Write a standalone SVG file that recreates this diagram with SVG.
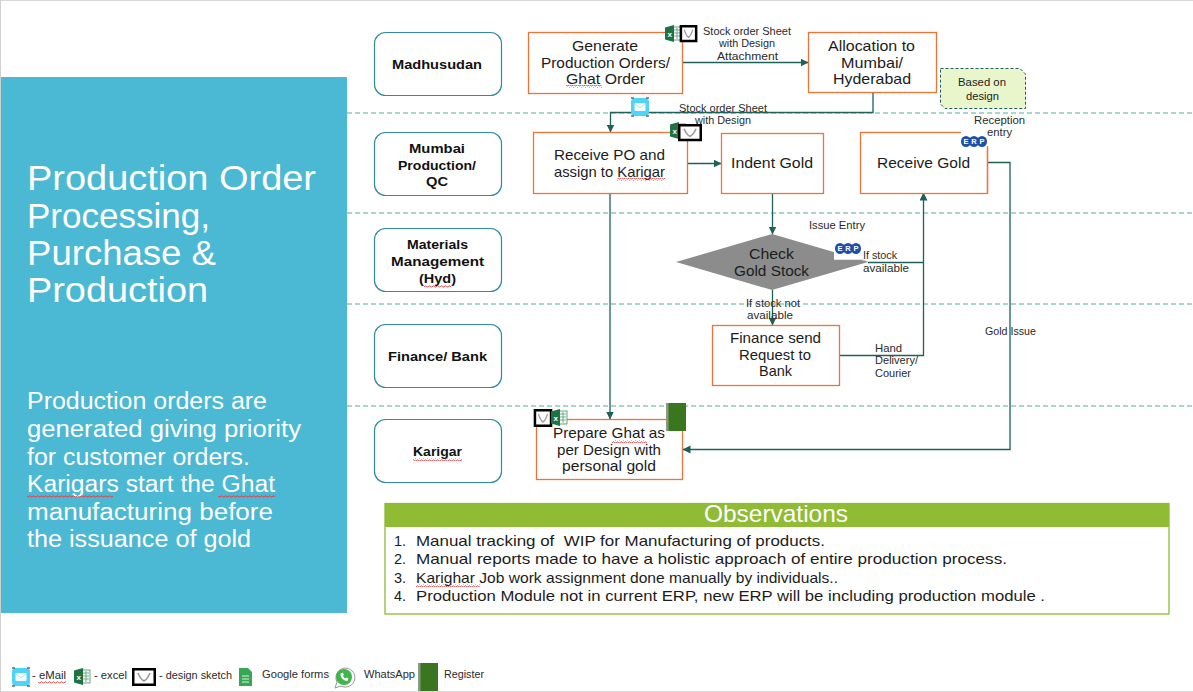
<svg xmlns="http://www.w3.org/2000/svg" width="1193" height="692" viewBox="0 0 1193 692">
<style>
text{font-family:"Liberation Sans",Arial,sans-serif;fill:#1c1c1c;text-anchor:start}
.box{fill:#fff;stroke:#ED7336;stroke-width:1.3}
.lane{fill:#fff;stroke:#2F8C9E;stroke-width:1.2}
.sep{stroke:#52AE9E;stroke-width:1;stroke-dasharray:5 3;fill:none}
.wire{stroke:#1F6058;stroke-width:1.3;fill:none}
.arrow{marker-end:url(#head)}
.t{font-size:14.5px}
.b{font-size:13px;font-weight:700;fill:#111}
.s{font-size:10.5px;fill:#2a2a2a}
.h{font-size:35px;fill:#fff}
.p{font-size:23.5px;fill:#fff}
.o{font-size:14.5px}
.l{font-size:10.5px;fill:#2a2a2a}
.erp{font-size:7.5px;font-weight:700;fill:#fff;text-anchor:middle}
.sq{fill:url(#squiggle)}
</style>
<defs>
<marker id="head" markerUnits="userSpaceOnUse" markerWidth="9" markerHeight="9" refX="7.5" refY="4" orient="auto">
<path d="M0 0L8 4L0 8Z" fill="#1F6058"/>
</marker>
<pattern id="squiggle" patternUnits="userSpaceOnUse" width="4" height="3">
<path d="M0 2L1 1L2 .8L3 2L4 2" fill="none" stroke="#D8383C" stroke-width=".8"/>
</pattern>
<g id="ico-excel">
<rect x="5" y="2" width="11" height="13" fill="#fff" stroke="#3E8E62" stroke-width=".8"/>
<path d="M9 5H15M9 8H15M9 11H15M12 3V14" stroke="#3E8E62" stroke-width=".7" fill="none"/>
<path d="M0 2.500L9 0V17L0 14.500Z" fill="#1F7244"/>
<text x="2.600" y="11.500" style="font-size:8px;font-weight:700;fill:#fff">x</text>
</g>
<g id="ico-sketch">
<rect x="1.250" y="1.250" width="21.500" height="15.500" fill="#fff" stroke="#000" stroke-width="2.500" vector-effect="non-scaling-stroke"/>
<path d="M6 5C8 10 10 12 12 13C14 12 16 10 18 5" fill="none" stroke="#9b9b9b" stroke-width="1.600"/>
</g>
<g id="ico-mail">
<rect width="18" height="18" rx="4" fill="#4FD4F7"/>
<path d="M0 0H3M15 0H18M0 18H3M15 18H18" stroke="#222" stroke-width="1"/>
<rect x="3.500" y="5" width="11" height="8" rx="1" fill="#F4FBFE"/>
<path d="M3.500 5.500L9 10L14.500 5.500" fill="none" stroke="#9FE0F2" stroke-width=".8"/>
</g>
<g id="ico-erp">
<ellipse cx="5" cy="6" rx="5" ry="5.500" fill="#1F4FA8"/>
<ellipse cx="13" cy="6" rx="5" ry="5.500" fill="#1F4FA8"/>
<ellipse cx="21" cy="6" rx="5" ry="5.500" fill="#1F4FA8"/>
<text class="erp" x="5 13 21" y="8.700">ERP</text>
</g>
<g id="ico-register">
<rect width="20" height="28" fill="#39761F"/>
<rect width="2.500" height="28" fill="#8a9a80"/>
</g>
</defs>

<rect width="1193" height="692" fill="#fff"/>
<rect x="0" y="0" width="1193" height="1" fill="#d9d9d9"/>
<rect x="0" y="691" width="1193" height="1" fill="#d9d9d9"/>
<rect x="0" y="0" width="1" height="692" fill="#d0d0d0"/>

<!-- left panel -->
<g id="panel">
<rect x="1" y="77" width="346" height="536" fill="#4BB8D4"/>
<text class="h" x="27" y="190" textLength="289" lengthAdjust="spacingAndGlyphs">Production Order</text>
<text class="h" x="27" y="228" textLength="183" lengthAdjust="spacingAndGlyphs">Processing,</text>
<text class="h" x="27" y="265" textLength="189" lengthAdjust="spacingAndGlyphs">Purchase &amp;</text>
<text class="h" x="27" y="302" textLength="181" lengthAdjust="spacingAndGlyphs">Production</text>
<text class="p" x="27" y="409" textLength="240" lengthAdjust="spacingAndGlyphs">Production orders are</text>
<text class="p" x="27" y="437" textLength="274" lengthAdjust="spacingAndGlyphs">generated giving priority</text>
<text class="p" x="27" y="465" textLength="223" lengthAdjust="spacingAndGlyphs">for customer orders.</text>
<text class="p" x="27" y="492" textLength="248" lengthAdjust="spacingAndGlyphs">Karigars start the Ghat</text>
<text class="p" x="27" y="520" textLength="246" lengthAdjust="spacingAndGlyphs">manufacturing before</text>
<text class="p" x="27" y="547" textLength="224" lengthAdjust="spacingAndGlyphs">the issuance of gold</text>
<rect class="sq" x="27" y="495" width="86" height="3"/>
<rect class="sq" x="218" y="495" width="57" height="3"/>
</g>

<!-- lane separators -->
<g id="separators">
<path class="sep" d="M347 113H1193M347 213H1193M347 304H1193M347 406H1193"/>
</g>

<!-- lane titles -->
<g id="lane-madhusudan">
<rect class="lane" x="374.500" y="32.500" width="127" height="63" rx="11"/>
<text class="b" x="392" y="69" textLength="90" lengthAdjust="spacingAndGlyphs">Madhusudan</text>
</g>
<g id="lane-mumbai">
<rect class="lane" x="374.500" y="132.500" width="127" height="63" rx="11"/>
<text class="b" x="409" y="153" textLength="56" lengthAdjust="spacingAndGlyphs">Mumbai</text>
<text class="b" x="398" y="170" textLength="78" lengthAdjust="spacingAndGlyphs">Production/</text>
<text class="b" x="426" y="186" textLength="22" lengthAdjust="spacingAndGlyphs">QC</text>
</g>
<g id="lane-materials">
<rect class="lane" x="374.500" y="228.500" width="127" height="63" rx="11"/>
<text class="b" x="407" y="249" textLength="61" lengthAdjust="spacingAndGlyphs">Materials</text>
<text class="b" x="391" y="266" textLength="93" lengthAdjust="spacingAndGlyphs">Management</text>
<text class="b" x="419" y="283" textLength="37" lengthAdjust="spacingAndGlyphs">(Hyd)</text>
<rect class="sq" x="424" y="285" width="27" height="3"/>
</g>
<g id="lane-finance">
<rect class="lane" x="374.500" y="324.500" width="127" height="63" rx="11"/>
<text class="b" x="388" y="361" textLength="99" lengthAdjust="spacingAndGlyphs">Finance/ Bank</text>
</g>
<g id="lane-karigar">
<rect class="lane" x="374.500" y="419.500" width="127" height="63" rx="11"/>
<text class="b" x="413" y="456" textLength="49" lengthAdjust="spacingAndGlyphs">Karigar</text>
<rect class="sq" x="413" y="458" width="49" height="3"/>
</g>

<!-- connectors -->
<g id="connectors">
<path class="wire arrow" d="M683 62.500H808"/>
<path class="wire arrow" d="M873 92V112.500H610.500V132"/>
<path class="wire arrow" d="M687 163.500H721"/>
<path class="wire arrow" d="M772.500 193V234"/>
<path class="wire arrow" d="M772.500 290V325"/>
<path class="wire" d="M868 262.500H923.500"/>
<path class="wire arrow" d="M839 355.500H923.500V193"/>
<path class="wire arrow" d="M987 162.500H1010V449.500H683"/>
<path class="wire arrow" d="M610 193V419"/>
</g>

<!-- process steps -->
<g id="step-generate">
<rect class="box" x="528.500" y="32.500" width="154" height="61"/>
<text class="t" x="572" y="51" textLength="66" lengthAdjust="spacingAndGlyphs">Generate</text>
<text class="t" x="541" y="68" textLength="129" lengthAdjust="spacingAndGlyphs">Production Orders/</text>
<text class="t" x="566" y="84" textLength="79" lengthAdjust="spacingAndGlyphs">Ghat Order</text>
<rect class="sq" x="566" y="85" width="36" height="3"/>
<use href="#ico-excel" x="665" y="25"/>
<use href="#ico-sketch" transform="translate(680 25) scale(.71 .95)"/>
</g>
<g id="step-allocation">
<rect class="box" x="808.500" y="32.500" width="128" height="60"/>
<text class="t" x="828" y="51" textLength="87" lengthAdjust="spacingAndGlyphs">Allocation to</text>
<text class="t" x="841" y="68" textLength="62" lengthAdjust="spacingAndGlyphs">Mumbai/</text>
<text class="t" x="833" y="84" textLength="78" lengthAdjust="spacingAndGlyphs">Hyderabad</text>
</g>
<g id="note-design">
<path d="M940.500 68.500H1020L1025.500 74V108.500H945L940.500 104Z" fill="#E9F5CB" stroke="#1F6058" stroke-dasharray="3 2"/>
<text x="958" y="86" style="font-size:11px" textLength="48" lengthAdjust="spacingAndGlyphs">Based on</text>
<text x="966" y="100" style="font-size:11px" textLength="33" lengthAdjust="spacingAndGlyphs">design</text>
</g>
<g id="step-receive-po">
<rect class="box" x="533.500" y="132.500" width="154" height="61"/>
<text class="t" x="554" y="160" textLength="111" lengthAdjust="spacingAndGlyphs">Receive PO and</text>
<text class="t" x="554" y="177" textLength="111" lengthAdjust="spacingAndGlyphs">assign to Karigar</text>
<rect class="sq" x="617" y="178" width="48" height="3"/>
<use href="#ico-excel" x="670" y="122"/>
<use href="#ico-sketch" transform="translate(678 124) scale(1 .95)"/>
</g>
<g id="step-indent">
<rect class="box" x="721.500" y="133.500" width="102" height="60"/>
<text class="t" x="731" y="168" textLength="82" lengthAdjust="spacingAndGlyphs">Indent Gold</text>
</g>
<g id="step-receive-gold">
<rect class="box" x="860.500" y="132.500" width="127" height="61"/>
<text class="t" x="877" y="168" textLength="93" lengthAdjust="spacingAndGlyphs">Receive Gold</text>
<rect x="961" y="130" width="28" height="18" fill="#fff"/>
<path d="M987.500 146V193" stroke="#ED7336" stroke-width="1.300"/>
<use href="#ico-erp" x="961" y="135.500"/>
</g>
<g id="step-check-stock">
<path d="M772 234L868 262L772 290L676 262Z" fill="#8C8C8C"/>
<rect x="834" y="243" width="29" height="17" fill="#fff"/>
<path d="M834 260H863L868 262" fill="none" stroke="#8C8C8C" stroke-width=".5"/>
<use href="#ico-erp" x="835" y="242.500"/>
<text class="t" x="749" y="259" textLength="45" lengthAdjust="spacingAndGlyphs">Check</text>
<text class="t" x="734" y="276" textLength="75" lengthAdjust="spacingAndGlyphs">Gold Stock</text>
</g>
<g id="step-finance">
<rect class="box" x="712.500" y="325.500" width="127" height="60"/>
<text class="t" x="730" y="343" textLength="91" lengthAdjust="spacingAndGlyphs">Finance send</text>
<text class="t" x="739" y="360" textLength="72" lengthAdjust="spacingAndGlyphs">Request to</text>
<text class="t" x="759" y="376" textLength="33" lengthAdjust="spacingAndGlyphs">Bank</text>
</g>
<g id="step-prepare">
<rect class="box" x="536.500" y="419.500" width="146" height="60"/>
<text class="t" x="553" y="438" textLength="112" lengthAdjust="spacingAndGlyphs">Prepare Ghat as</text>
<text class="t" x="557" y="455" textLength="104" lengthAdjust="spacingAndGlyphs">per Design with</text>
<text class="t" x="562" y="471" textLength="94" lengthAdjust="spacingAndGlyphs">personal gold</text>
<rect class="sq" x="612" y="440" width="35" height="3"/>
<use href="#ico-sketch" transform="translate(534 409) scale(.75 1)"/>
<use href="#ico-excel" x="551" y="409"/>
<use href="#ico-register" x="666" y="403"/>
</g>

<!-- connector captions -->
<g id="captions">
<text class="s" x="703" y="35" textLength="88" lengthAdjust="spacingAndGlyphs">Stock order Sheet</text>
<text class="s" x="719" y="47" textLength="56" lengthAdjust="spacingAndGlyphs">with Design</text>
<text class="s" x="717" y="60" textLength="61" lengthAdjust="spacingAndGlyphs">Attachment</text>
<use href="#ico-mail" x="631" y="98"/>
<text class="s" x="679" y="112" textLength="88" lengthAdjust="spacingAndGlyphs">Stock order Sheet</text>
<text class="s" x="695" y="124" textLength="56" lengthAdjust="spacingAndGlyphs">with Design</text>
<text class="s" x="974" y="124" textLength="51" lengthAdjust="spacingAndGlyphs">Reception</text>
<text class="s" x="987" y="136" textLength="25" lengthAdjust="spacingAndGlyphs">entry</text>
<text class="s" x="809" y="229" textLength="56" lengthAdjust="spacingAndGlyphs">Issue Entry</text>
<text class="s" x="863" y="259" textLength="34" lengthAdjust="spacingAndGlyphs">If stock</text>
<text class="s" x="863" y="272" textLength="46" lengthAdjust="spacingAndGlyphs">available</text>
<text class="s" x="746" y="307" textLength="54" lengthAdjust="spacingAndGlyphs">If stock not</text>
<text class="s" x="747" y="319" textLength="46" lengthAdjust="spacingAndGlyphs">available</text>
<text class="s" x="875" y="352" textLength="27" lengthAdjust="spacingAndGlyphs">Hand</text>
<text class="s" x="875" y="364" textLength="43" lengthAdjust="spacingAndGlyphs">Delivery/</text>
<text class="s" x="875" y="377" textLength="36" lengthAdjust="spacingAndGlyphs">Courier</text>
<text class="s" x="985" y="335" textLength="51" lengthAdjust="spacingAndGlyphs">Gold Issue</text>
</g>

<!-- observations -->
<g id="observations">
<rect x="385" y="503.500" width="784" height="110.500" fill="#fff" stroke="#8FBB35" stroke-width="1.300"/>
<rect x="385" y="503" width="784" height="24" fill="#8FBB35"/>
<text x="704" y="522" style="font-size:24px;fill:#fff" textLength="144" lengthAdjust="spacingAndGlyphs">Observations</text>
<text class="o" x="394" y="546">1.</text>
<text class="o" x="416" y="546" textLength="409" lengthAdjust="spacingAndGlyphs" xml:space="preserve">Manual tracking of  WIP for Manufacturing of products.</text>
<text class="o" x="394" y="564">2.</text>
<text class="o" x="416" y="564" textLength="591" lengthAdjust="spacingAndGlyphs">Manual reports made to have a holistic approach of entire production process.</text>
<text class="o" x="394" y="583">3.</text>
<text class="o" x="416" y="583" textLength="422" lengthAdjust="spacingAndGlyphs">Karighar Job work assignment done manually by individuals..</text>
<rect class="sq" x="416" y="584" width="64" height="3"/>
<text class="o" x="394" y="601">4.</text>
<text class="o" x="416" y="601" textLength="629" lengthAdjust="spacingAndGlyphs">Production Module not in current ERP, new ERP will be including production module .</text>
</g>

<!-- icon legend -->
<g id="legend">
<use href="#ico-mail" x="12" y="668"/>
<text class="l" x="32" y="679" textLength="34" lengthAdjust="spacingAndGlyphs">- eMail</text>
<rect class="sq" x="38" y="681" width="28" height="3"/>
<use href="#ico-excel" x="74" y="668"/>
<text class="l" x="94" y="679" textLength="33" lengthAdjust="spacingAndGlyphs">- excel</text>
<use href="#ico-sketch" transform="translate(132 668)"/>
<text class="l" x="159" y="679" textLength="73" lengthAdjust="spacingAndGlyphs">- design sketch</text>
<path d="M239 668H248L252 672V686H239Z" fill="#34A853"/>
<path d="M242 676H249M242 679H249M242 682H249" stroke="#DDF2E3" stroke-width="1"/>
<text class="l" x="262" y="678" textLength="67" lengthAdjust="spacingAndGlyphs">Google forms</text>
<path d="M335 688L337 682A9.500 9.500 0 1 1 341 686Z" fill="#fff" stroke="#9a9a9a" stroke-width="1"/>
<circle cx="344" cy="677" r="8" fill="#3FB54A"/>
<path d="M340.500 673.500C340 677 343 681 347.500 681L348.500 678.500L346.500 677.500L345.500 678.500C344.500 678 343.500 677 343 675.500L344 674.500L342.500 672.500Z" fill="#fff"/>
<text class="l" x="364" y="678" textLength="51" lengthAdjust="spacingAndGlyphs">WhatsApp</text>
<use href="#ico-register" transform="translate(418 663)"/>
<text class="l" x="444" y="678" textLength="40" lengthAdjust="spacingAndGlyphs">Register</text>
</g>
</svg>
